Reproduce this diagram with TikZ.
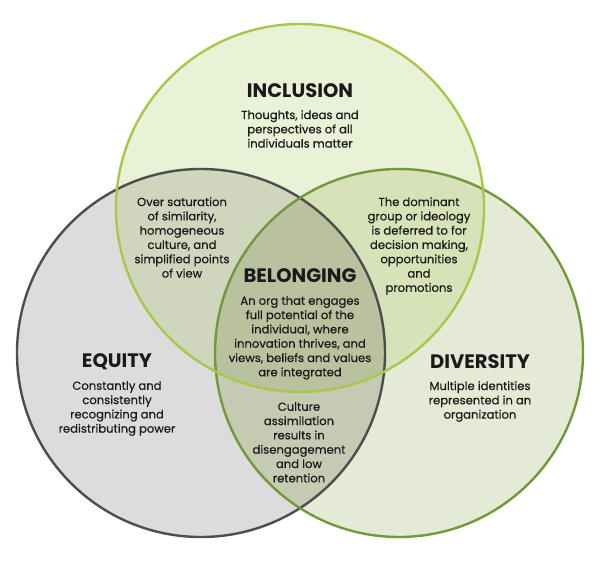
\documentclass[tikz,border=0pt]{standalone}
\usepackage{fontspec}
\setmainfont{Poppins}
\newfontfamily\bodyfont{Poppins}[FakeBold=0.5]
\definecolor{txt}{HTML}{1A1A1A}
\definecolor{fT}{HTML}{E9F1D6}
\definecolor{fL}{HTML}{DCDCDC}
\definecolor{fR}{HTML}{E4EAD6}
\definecolor{fTL}{HTML}{CFD6BD}
\definecolor{fTR}{HTML}{D7E2B9}
\definecolor{fLR}{HTML}{C6CAB2}
\definecolor{fC}{HTML}{B9C19F}
\definecolor{sT}{HTML}{A8C84A}
\definecolor{sL}{HTML}{4D4D4D}
\definecolor{sR}{HTML}{71983B}
\begin{document}
\begin{tikzpicture}[x=1pt,y=-1pt,
  body/.style={align=center, font=\bodyfont\fontsize{11.6}{14.3}\selectfont, text=txt, inner sep=0pt},
  head/.style={font=\fontsize{19.5}{22}\selectfont\bfseries, text=txt, inner sep=0pt},
  ring/.style={line width=2.4pt}]
\useasboundingbox (0,0) rectangle (600,561);
\coordinate (T) at (300,208);
\coordinate (L) at (201,353);
\coordinate (R) at (399,353);
% base fills
\fill[fL] (L) circle[radius=184pt];
\fill[fR] (R) circle[radius=184pt];
\fill[fT] (T) circle[radius=184pt];
% pairwise overlaps
\begin{scope}
  \clip (T) circle[radius=184pt];
  \fill[fTL] (L) circle[radius=184pt];
\end{scope}
\begin{scope}
  \clip (T) circle[radius=184pt];
  \fill[fTR] (R) circle[radius=184pt];
\end{scope}
\begin{scope}
  \clip (L) circle[radius=184pt];
  \fill[fLR] (R) circle[radius=184pt];
\end{scope}
\begin{scope}
  \clip (L) circle[radius=184pt];
  \clip (R) circle[radius=184pt];
  \fill[fC] (T) circle[radius=184pt];
\end{scope}
% outlines
\draw[ring, sL] (L) circle[radius=184pt];
\draw[ring, sR] (R) circle[radius=184pt];
\draw[ring, sT] (T) circle[radius=184pt];
% texts
\node[head] (inch) at (300,91) {INCLUSION};
\node[body, anchor=north] (inct) at (300,110) {Thoughts, ideas and\\perspectives of all\\individuals matter};
\node[body, anchor=north] (tl) at (182,197) {Over saturation\\of similarity,\\homogeneous\\culture, and\\simplified points\\of view};
\node[body, anchor=north] (tr) at (419,197) {The dominant\\group or ideology\\is deferred to for\\decision making,\\opportunities\\and\\promotions};
\node[head] (belh) at (300,276) {BELONGING};
\node[body, anchor=north] (belt) at (300,296) {An org that engages\\full potential of the\\individual, where\\innovation thrives, and\\views, beliefs and values\\are integrated};
\node[head] (equh) at (117,362) {EQUITY};
\node[body, anchor=north] (equt) at (117,381) {Constantly and\\consistently\\recognizing and\\redistributing power};
\node[head] (divh) at (480,362) {DIVERSITY};
\node[body, anchor=north] (divt) at (480,381) {Multiple identities\\represented in an\\organization};
\node[body, anchor=north] (lr) at (299,402) {Culture\\assimilation\\results in\\disengagement\\and low\\retention};
\end{tikzpicture}
\end{document}
